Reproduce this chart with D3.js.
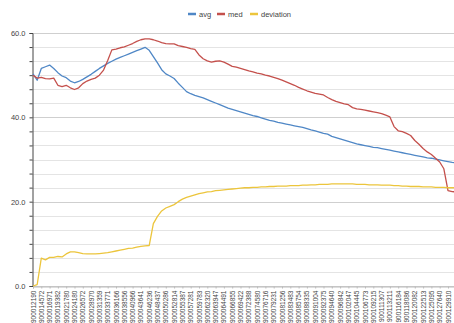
<!DOCTYPE html>
<html>
<head>
<meta charset="utf-8" />
<script src="https://d3js.org/d3.v7.min.js"></script>
<style>
  body { margin: 0; background: #fff; }
  svg { display: block; font-family: "Liberation Sans", Arial, sans-serif; }
</style>
</head>
<body>
<svg id="chart"></svg>
<script>
// tick labels along the bottom (one every second point)
var labels = ["900012190","900014572","900016971","900019382","900021780","900024180","900026572","900028970",
  "900031359","900033771","900036166","900038556","900040966","900043641","900046236","900048437",
  "900050286","900052814","900055387","900057281","900059783","900062320","900063947","900064491",
  "900066855","900069422","900072388","900074580","900076716","900079231","900081256","900083483",
  "900085754","900088335","900091004","900092375","900094640","900096842","900102047","900104445",
  "900106773","900109215","900111307","900113211","900116184","900118086","900120082","900122513",
  "900125095","900127640","900129910"];

var avg = [50.3,48.8,51.6,52.0,52.4,51.6,50.6,49.8,49.4,48.6,
  48.2,48.5,49.0,49.6,50.2,50.9,51.6,52.2,52.8,53.3,
  53.8,54.2,54.6,55.0,55.4,55.8,56.2,56.6,55.9,54.4,
  52.9,51.3,50.3,49.8,49.2,48.1,47.1,46.1,45.6,45.2,
  44.9,44.6,44.2,43.8,43.4,43.0,42.6,42.2,41.9,41.6,
  41.3,41.0,40.7,40.4,40.2,39.9,39.6,39.3,39.1,38.8,
  38.6,38.4,38.2,38.0,37.8,37.6,37.3,37.0,36.8,36.5,
  36.2,36.0,35.5,35.2,34.9,34.6,34.3,34.0,33.7,33.5,
  33.3,33.1,32.9,32.8,32.6,32.4,32.2,32.0,31.8,31.6,
  31.4,31.2,31.0,30.8,30.6,30.4,30.3,30.1,29.9,29.7,
  29.5,29.3,29.2];

var med = [50.0,49.3,49.5,49.2,49.1,49.3,47.6,47.3,47.6,47.0,
  46.6,47.0,48.0,48.6,49.0,49.3,50.0,51.2,53.5,56.0,
  56.2,56.5,56.7,57.1,57.5,58.0,58.4,58.6,58.6,58.4,
  58.1,57.7,57.5,57.4,57.4,57.0,56.8,56.6,56.3,56.1,
  54.8,53.9,53.4,53.1,53.3,53.4,53.1,52.6,52.1,51.9,
  51.6,51.3,51.0,50.8,50.5,50.3,50.0,49.8,49.5,49.2,
  48.8,48.4,48.0,47.6,47.1,46.7,46.3,46.0,45.7,45.5,
  45.3,44.7,44.2,43.8,43.5,43.2,43.0,42.3,42.0,41.9,
  41.7,41.5,41.3,41.1,40.9,40.5,40.1,37.8,36.8,36.6,
  36.2,35.7,34.5,33.6,32.6,31.8,31.2,30.3,29.4,27.8,
  22.6,22.4,22.3];

var deviation = [0.0,0.3,6.6,6.2,6.8,6.8,7.0,6.9,7.6,8.1,
  8.1,7.9,7.7,7.6,7.6,7.6,7.7,7.8,7.9,8.1,
  8.3,8.5,8.7,8.9,9.0,9.2,9.4,9.5,9.6,14.8,
  16.5,17.8,18.5,18.9,19.3,20.0,20.6,21.0,21.3,21.6,
  21.9,22.1,22.3,22.4,22.6,22.7,22.8,22.9,23.0,23.1,
  23.2,23.3,23.3,23.4,23.4,23.5,23.5,23.6,23.6,23.7,
  23.7,23.7,23.8,23.8,23.8,23.9,23.9,24.0,24.0,24.1,
  24.1,24.1,24.2,24.2,24.2,24.2,24.2,24.2,24.1,24.1,
  24.1,24.0,24.0,24.0,23.9,23.9,23.9,23.8,23.8,23.7,
  23.7,23.6,23.6,23.6,23.5,23.5,23.5,23.4,23.4,23.4,
  23.3,23.3,23.3];

var seriesNames = ["avg", "med", "deviation"];
var colors = ["#4f87c6", "#c4504c", "#ecc53c"];

var width = 454, height = 323;
var svg = d3.select("#chart").attr("width", width).attr("height", height);

var y = d3.scaleLinear().domain([0, 60]).range([286, 33]);
var x = d3.scaleLinear().domain([0, avg.length - 1]).range([33, 33 + (avg.length - 1) * 4.15]);

// grid lines, 6 steps per 20
var gridVals = d3.range(0, 61, 20 / 6).map(function(d) { return Math.round(d * 1000) / 1000; });
svg.append("g").selectAll("line").data(gridVals).enter().append("line")
  .attr("x1", 32).attr("x2", width)
  .attr("y1", function(d) { return Math.round(y(d)) + 0.5; })
  .attr("y2", function(d) { return Math.round(y(d)) + 0.5; })
  .attr("stroke", function(d) { return d % 20 < 0.01 ? "#cfcfcf" : "#e4e4e4"; })
  .attr("stroke-width", 1);

// y axis
var yAxis = svg.append("g").attr("transform", "translate(32.5,0)")
  .call(d3.axisLeft(y).tickValues(gridVals).tickSize(3).tickPadding(4)
    .tickFormat(function(d) { return d % 20 < 0.01 ? d.toFixed(1) : ""; }));
yAxis.selectAll("text").attr("font-size", 7.5).attr("fill", "#444");
yAxis.select(".domain").attr("stroke", "#444");
yAxis.selectAll(".tick line").attr("stroke", "#444");

// x axis
var xAxis = svg.append("g").attr("transform", "translate(0,286.5)")
  .call(d3.axisBottom(x).tickValues(labels.map(function(d, i) { return i * 2; }))
    .tickSize(2)
    .tickFormat(function(d) { return labels[d / 2]; }));
xAxis.select(".domain").attr("stroke", "#bbb");
xAxis.selectAll(".tick line").attr("stroke", "#bbb");
xAxis.selectAll("text")
  .attr("font-size", 6.5).attr("fill", "#444")
  .attr("text-anchor", "end")
  .attr("transform", "rotate(-90)")
  .attr("x", -4).attr("y", 0).attr("dy", "0.32em");

// lines
var line = d3.line()
  .x(function(d, i) { return x(i); })
  .y(function(d) { return y(d); });

[avg, med, deviation].forEach(function(s, k) {
  svg.append("path").datum(s)
    .attr("fill", "none")
    .attr("stroke", colors[k])
    .attr("stroke-width", 1.3)
    .attr("stroke-linejoin", "round")
    .attr("d", line);
});

// legend
var legendX = [188, 217, 250];
var legend = svg.append("g");
seriesNames.forEach(function(name, k) {
  legend.append("line")
    .attr("x1", legendX[k]).attr("x2", legendX[k] + 8)
    .attr("y1", 14).attr("y2", 14)
    .attr("stroke", colors[k]).attr("stroke-width", 2.5);
  legend.append("text")
    .attr("x", legendX[k] + 11).attr("y", 14).attr("dy", "0.35em")
    .attr("font-size", 7.5).attr("fill", "#444")
    .text(name);
});
</script>
</body>
</html>
